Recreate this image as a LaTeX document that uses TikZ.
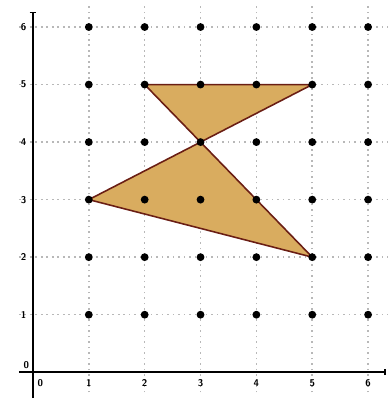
\documentclass[tikz,border=0pt]{standalone}
\usepackage{tikz}
\usetikzlibrary{positioning}
\definecolor{sand}{HTML}{D9AC5F}
\definecolor{rim}{HTML}{6A1E14}

\begin{document}
\begin{tikzpicture}[x=1cm,y=1.03cm,lbl/.style={font=\tiny\bfseries\sffamily,inner sep=1pt}]
  \useasboundingbox (-0.59,-0.5) rectangle (6.36,6.47);
  \foreach \i in {1,...,6}{
    \draw[dotted,black!28,thick] (\i,-0.35)--(\i,6.4);
    \draw[dotted,black!28,thick] (-0.25,\i)--(6.36,\i);
  }
  \draw[line width=1pt] (-0.25,0)--(6.3,0); \draw[line width=1pt] (0,-0.45)--(0,6.25);
  \draw[line width=0.8pt] (6.3,-0.05)--(6.3,0.05); \draw[line width=0.8pt] (-0.06,6.25)--(0.06,6.25);
  \foreach \i in {1,...,6}{
    \node[lbl] at (\i,-0.19){\i}; \node[lbl] at (-0.17,\i){\i};
  }
  \node[lbl] at (-0.12,0.12){0}; \node[lbl] at (0.13,-0.19){0};
  \coordinate (A) at (1,3); \coordinate (B) at (3,4); \coordinate (C) at (5,2);
  \coordinate (D) at (2,5); \coordinate (E) at (5,5);
  \filldraw[fill=sand,draw=rim,line width=0.8pt,line join=round] (A)--(B)--(C)--cycle;
  \filldraw[fill=sand,draw=rim,line width=0.8pt,line join=round] (D)--(E)--(B)--cycle;
  \foreach \x in {1,...,6}
    \foreach \y in {1,...,6}
      \fill (\x,\y) circle (2pt);
\end{tikzpicture}
\end{document}
